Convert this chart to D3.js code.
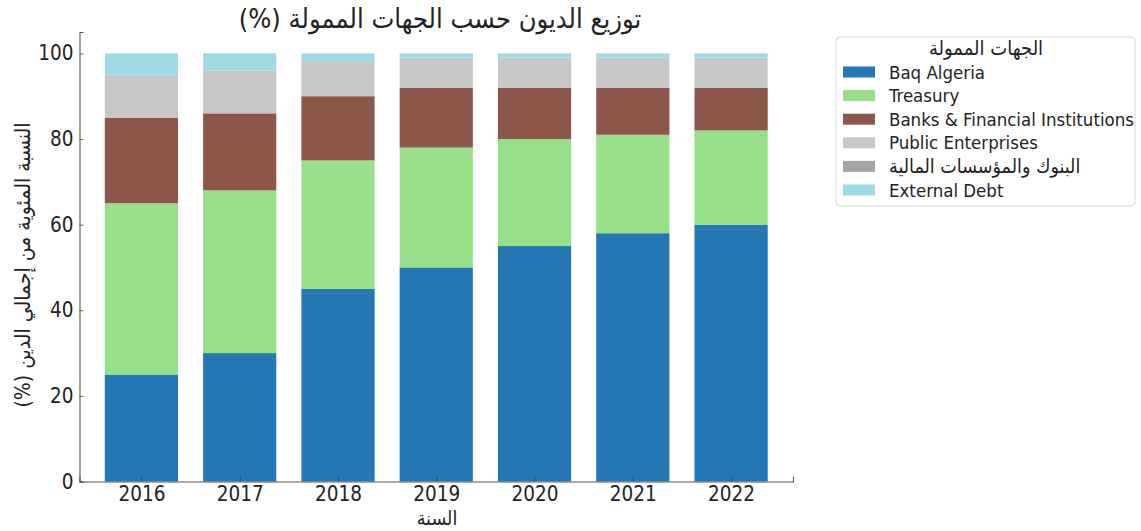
<!DOCTYPE html>
<html>
<head>
<meta charset="utf-8">
<script src="https://cdn.jsdelivr.net/npm/d3@7"></script>
<style>
  html, body { margin: 0; padding: 0; background: #fff; }
  svg text { font-family: "DejaVu Sans Condensed", "DejaVu Sans", sans-serif; fill: #222; }
</style>
</head>
<body>
<svg id="chart" width="1141" height="531"></svg>
<script>
// Years on the x axis
const years = ["2016", "2017", "2018", "2019", "2020", "2021", "2022"];

// Share of total debt (%) by funding source, stacked bottom to top
const baqAlgeria      = [25, 30, 45, 50, 55, 58, 60];
const treasury        = [40, 38, 30, 28, 25, 23, 22];
const banksFinancial  = [20, 18, 15, 14, 12, 11, 10];
const publicEnterpr   = [10, 10,  8,  7,  7,  7,  7];
const banksArabic     = [ 0,  0,  0,  0,  0,  0,  0];
const externalDebt    = [ 5,  4,  2,  1,  1,  1,  1];

const seriesNames  = ["Baq Algeria", "Treasury", "Banks & Financial Institutions",
                      "Public Enterprises", "البنوك والمؤسسات المالية", "External Debt"];
const seriesValues = [baqAlgeria, treasury, banksFinancial, publicEnterpr, banksArabic, externalDebt];
const seriesColors = ["#2277b4", "#98df8a", "#8c564b", "#c7c7c7", "#a5a5a5", "#9edae5"];

const yTicks = [0, 20, 40, 60, 80, 100];

const svg = d3.select("#chart");

// Plot area
const x = d3.scaleLinear().domain([-0.63, years.length - 1 + 0.63]).range([79.5, 793]);
const y = d3.scaleLinear().domain([0, 105]).range([481.5, 32]);
const barWidth = 0.745;

// Build stack rows
const rows = years.map((yr, i) => {
  const r = { year: yr, idx: i };
  seriesNames.forEach((n, k) => { r[n] = seriesValues[k][i]; });
  return r;
});
const stacked = d3.stack().keys(seriesNames)(rows);

// Bars
svg.append("g").selectAll("g")
  .data(stacked)
  .join("g")
  .attr("fill", (d, k) => seriesColors[k])
  .selectAll("rect")
  .data(d => d)
  .join("rect")
  .attr("x", d => x(d.data.idx - barWidth / 2))
  .attr("width", d => x(barWidth) - x(0))
  .attr("y", d => y(d[1]))
  .attr("height", d => Math.max(0, y(d[0]) - y(d[1])));

// Axes (ticks point inward, drawn over the bars)
const xAxis = d3.axisBottom(x)
  .tickValues(d3.range(years.length))
  .tickFormat(i => years[i])
  .tickSizeOuter(0)
  .tickSize(-5);
const gx = svg.append("g").attr("transform", `translate(0,${y(0)})`).call(xAxis);
gx.selectAll("text").attr("font-size", 20.5).attr("y", 0).attr("dy", 19.5);

const yAxis = d3.axisLeft(y).tickValues(yTicks).tickSizeOuter(0).tickSize(-4);
const gy = svg.append("g").attr("transform", `translate(${x.range()[0]},0)`).call(yAxis);
gy.selectAll("text").attr("font-size", 20.5).attr("x", -6);

[gx, gy].forEach(g => {
  g.select(".domain").attr("stroke", "#555").attr("stroke-width", 1.1);
  g.selectAll(".tick line").attr("stroke", "#444").attr("stroke-opacity", 0.8);
  g.selectAll("text").style("font-family", "'DejaVu Sans Condensed', 'DejaVu Sans', sans-serif").attr("fill", "#222");
});

// Title and axis labels
svg.append("text")
  .attr("x", 440).attr("y", 28)
  .attr("text-anchor", "middle")
  .attr("font-size", 27)
  .attr("direction", "rtl")
  .text("توزيع الديون حسب الجهات الممولة (%)");

svg.append("text")
  .attr("x", 437).attr("y", 525)
  .attr("text-anchor", "middle")
  .attr("font-size", 19.5)
  .text("السنة");

svg.append("text")
  .attr("transform", "translate(30,265) rotate(-90)")
  .attr("text-anchor", "middle")
  .attr("font-size", 21)
  .attr("direction", "rtl")
  .text("النسبة المئوية من إجمالي الدين (%)");

// Legend
const lg = svg.append("g").attr("transform", "translate(836,37)");
lg.append("rect")
  .attr("width", 299).attr("height", 169)
  .attr("rx", 4)
  .attr("fill", "#fff").attr("stroke", "#d8d8d8");
lg.append("text")
  .attr("x", 150).attr("y", 18)
  .attr("text-anchor", "middle")
  .attr("font-size", 20)
  .text("الجهات الممولة");
seriesNames.forEach((n, k) => {
  const cy = 35 + k * 23.6;
  lg.append("rect")
    .attr("x", 7).attr("y", cy - 5.5)
    .attr("width", 32).attr("height", 11)
    .attr("fill", seriesColors[k]);
  lg.append("text")
    .attr("x", 53).attr("y", cy)
    .attr("dy", "0.36em")
    .attr("font-size", k === 4 ? 19.5 : 18.5)
    .text(n);
});
</script>
</body>
</html>
